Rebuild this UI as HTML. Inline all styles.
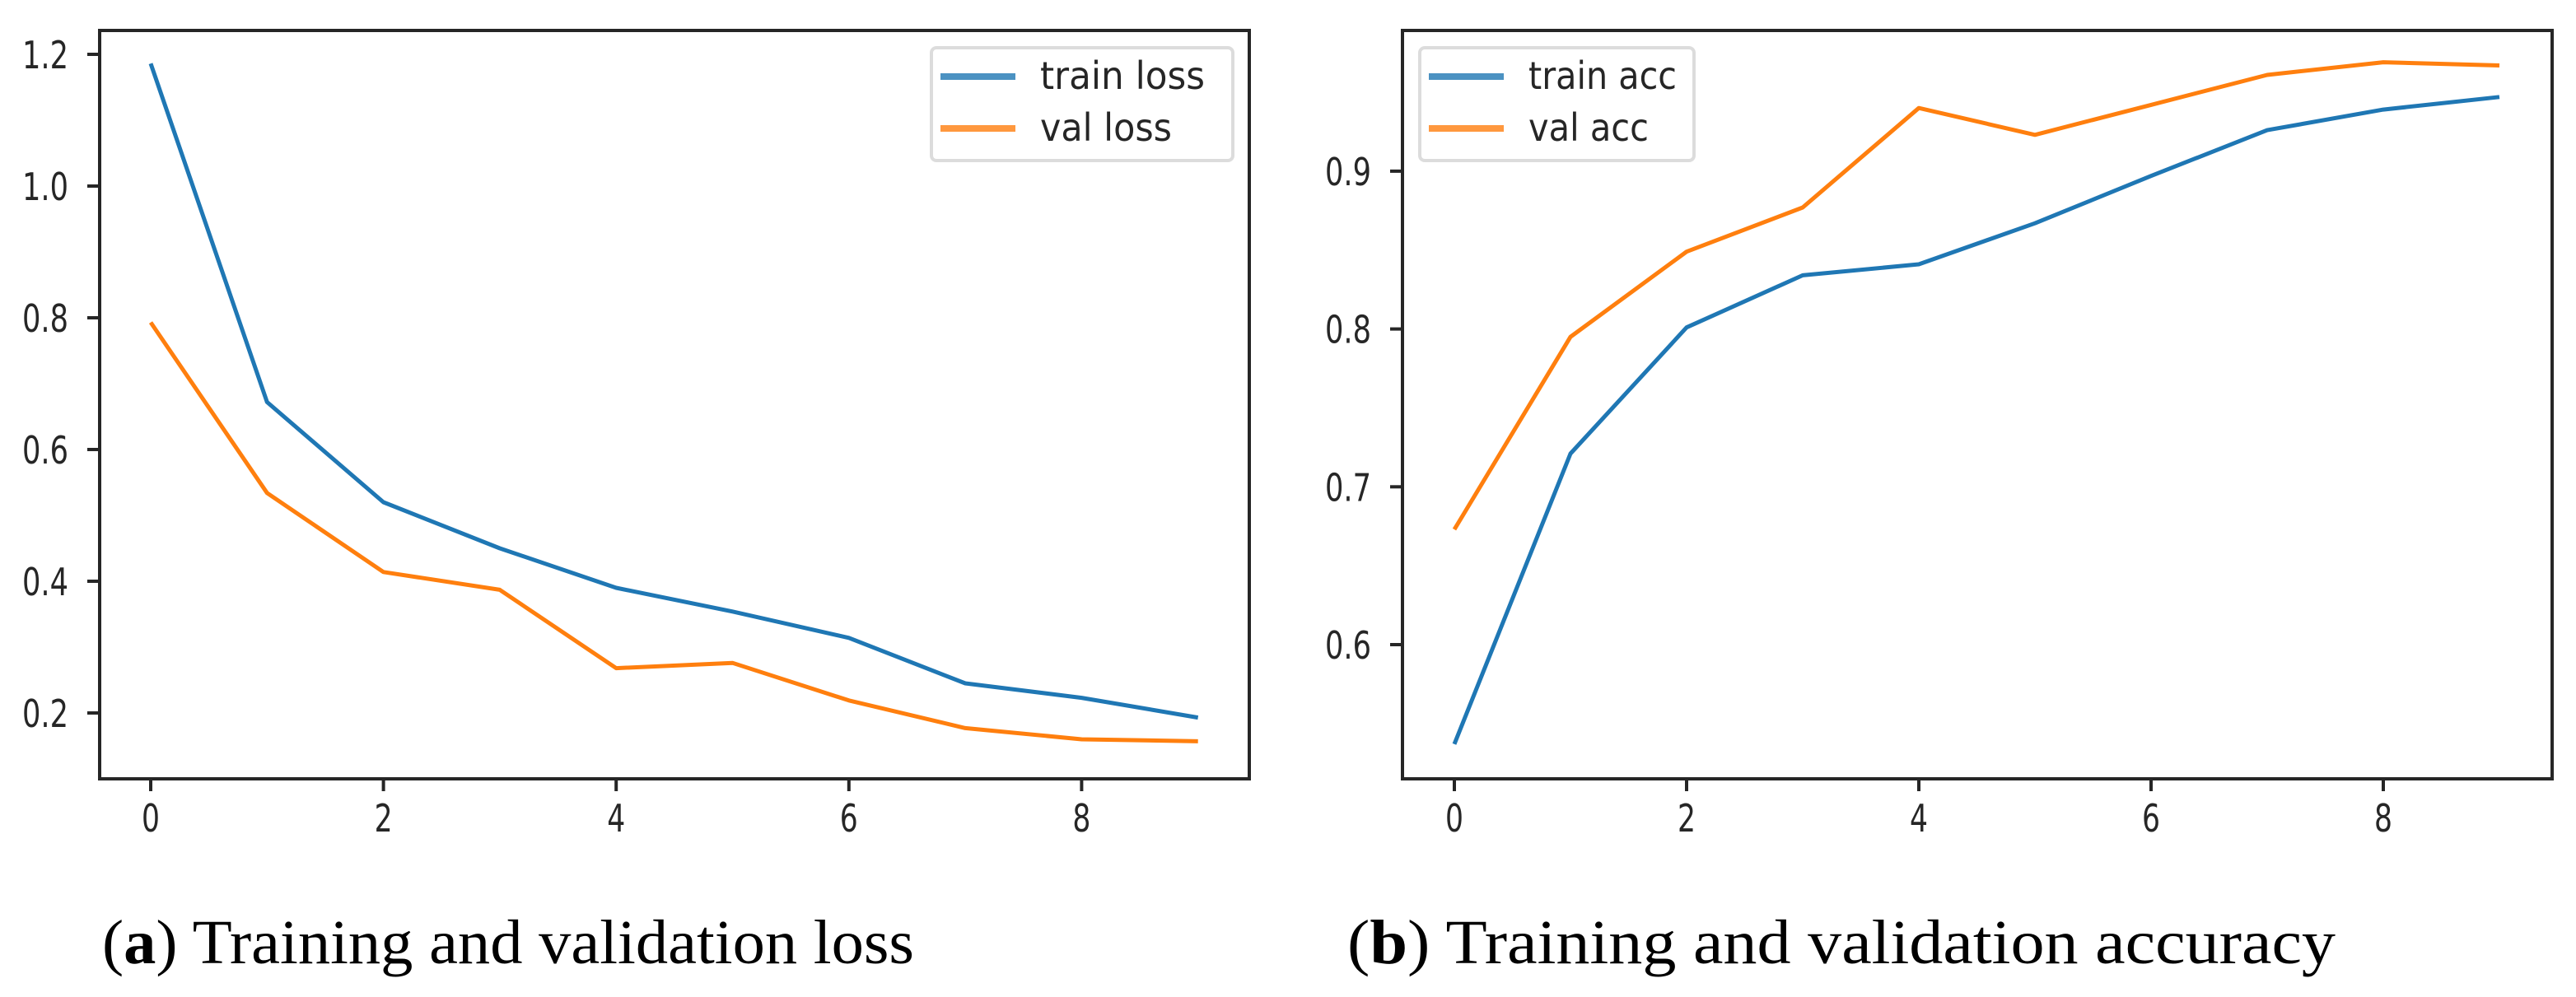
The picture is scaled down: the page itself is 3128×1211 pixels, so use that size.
<!DOCTYPE html>
<html><head><meta charset="utf-8"><style>
html,body{margin:0;padding:0;background:#fff;}
svg{display:block;}
</style></head><body>
<svg id="fig" width="3128" height="1211" viewBox="0 0 3128 1211" xmlns="http://www.w3.org/2000/svg">
<rect width="3128" height="1211" fill="#fff"/>
<g id="lossChart"></g>
<g id="accChart"></g>
<text x="124" y="1170" font-family="Liberation Serif, serif" font-size="76" fill="#000" textLength="986" lengthAdjust="spacingAndGlyphs">(<tspan font-weight="bold">a</tspan>) Training and validation loss</text>
<text x="1636" y="1170" font-family="Liberation Serif, serif" font-size="76" fill="#000" textLength="1200" lengthAdjust="spacingAndGlyphs">(<tspan font-weight="bold">b</tspan>) Training and validation accuracy</text>
</svg>
<script>
const epochs = [0,1,2,3,4,5,6,7,8,9];
const trainLoss = [1.186,0.672,0.520,0.450,0.390,0.354,0.314,0.245,0.223,0.193];
const valLoss = [0.793,0.534,0.414,0.387,0.268,0.276,0.219,0.177,0.160,0.157];
const trainAcc = [0.537,0.721,0.801,0.834,0.841,0.867,0.897,0.926,0.939,0.947];
const valAcc = [0.673,0.795,0.849,0.877,0.940,0.923,0.942,0.961,0.969,0.967];
const xTicks = [0,2,4,6,8];
const lossYTicks = [0.2,0.4,0.6,0.8,1.0,1.2];
const accYTicks = [0.6,0.7,0.8,0.9];

const NS = 'http://www.w3.org/2000/svg';
const BLUE = '#1f77b4', ORANGE = '#ff7f0e';
function mk(tag, attrs, parent){
  const e = document.createElementNS(NS, tag);
  for (const k in attrs) e.setAttribute(k, attrs[k]);
  parent.appendChild(e);
  return e;
}

function drawChart(g, cfg){
  const {left, right, top, bottom, x0px, xUnit, yRefVal, yRefPx, yPerUnit, yTicks, series, legend} = cfg;
  const sx = v => x0px + v * xUnit;
  const sy = v => yRefPx - (v - yRefVal) * yPerUnit;
  series.forEach(s => {
    const pts = epochs.map((e, i) => sx(e).toFixed(1) + ',' + sy(s.values[i]).toFixed(1)).join(' ');
    const pl = mk('polyline', {points: pts, fill: 'none', stroke: s.color, 'stroke-width': 5, 'stroke-linejoin': 'round'}, g);
    
    
  });
  const fr = mk('rect', {x: left, y: top, width: right - left, height: bottom - top, fill: 'none', stroke: '#262626', 'stroke-width': 4}, g);
  
  
  xTicks.forEach(t => {
    const x = sx(t);
    const tk = mk('line', {x1: x, y1: bottom, x2: x, y2: bottom + 15, stroke: '#262626', 'stroke-width': 4}, g);
    
    
    const lb = mk('text', {x: x, y: 1010, 'text-anchor': 'middle', 'font-family': 'DejaVu Sans, Liberation Sans, sans-serif', 'font-size': 46, fill: '#262626', textLength: 22, lengthAdjust: 'spacingAndGlyphs'}, g);
    lb.textContent = String(t);
    
    
  });
  yTicks.forEach(t => {
    const y = sy(t);
    const tk = mk('line', {x1: left - 15, y1: y, x2: left, y2: y, stroke: '#262626', 'stroke-width': 4}, g);
    
    
    const lb = mk('text', {x: left - 94, y: y + 17, 'font-family': 'DejaVu Sans, Liberation Sans, sans-serif', 'font-size': 46, fill: '#262626', textLength: 56, lengthAdjust: 'spacingAndGlyphs'}, g);
    lb.textContent = t.toFixed(1);
    
    
  });
  const lg = mk('g', {}, g);
  
  
  const box = mk('rect', {x: legend.x, y: legend.y, width: legend.w, height: 137, rx: 6, fill: '#fff', stroke: '#d9d9d9', 'stroke-width': 4, opacity: 0.9}, lg);
  
  
  series.forEach((s, i) => {
    const y = legend.y + 35 + i * 63;
    const ln = mk('line', {x1: legend.x + 11, y1: y, x2: legend.x + 102, y2: y, stroke: s.color, 'stroke-width': 8, opacity: 0.8}, lg);
    
    
    const tx = mk('text', {x: legend.x + 132, y: y + 15, 'font-family': 'DejaVu Sans, Liberation Sans, sans-serif', 'font-size': 46, fill: '#262626', textLength: s.tl, lengthAdjust: 'spacingAndGlyphs'}, lg);
    tx.textContent = s.label;
    
    
  });
}

drawChart(document.getElementById('lossChart'), {
  left: 121, right: 1517, top: 37, bottom: 946,
  x0px: 183, xUnit: 141.3, yRefVal: 0.2, yRefPx: 866, yPerUnit: 800, yTicks: lossYTicks,
  series: [
    {name: 'train-loss-line', label: 'train loss', color: BLUE, values: trainLoss, tl: 200},
    {name: 'val-loss-line', label: 'val loss', color: ORANGE, values: valLoss, tl: 160}
  ],
  legend: {x: 1131, y: 58, w: 366}
});
drawChart(document.getElementById('accChart'), {
  left: 1703, right: 3099, top: 37, bottom: 946,
  x0px: 1766, xUnit: 141, yRefVal: 0.6, yRefPx: 783, yPerUnit: 1917, yTicks: accYTicks,
  series: [
    {name: 'train-acc-line', label: 'train acc', color: BLUE, values: trainAcc, tl: 180},
    {name: 'val-acc-line', label: 'val acc', color: ORANGE, values: valAcc, tl: 146}
  ],
  legend: {x: 1724, y: 58, w: 333}
});
</script>
</body></html>
